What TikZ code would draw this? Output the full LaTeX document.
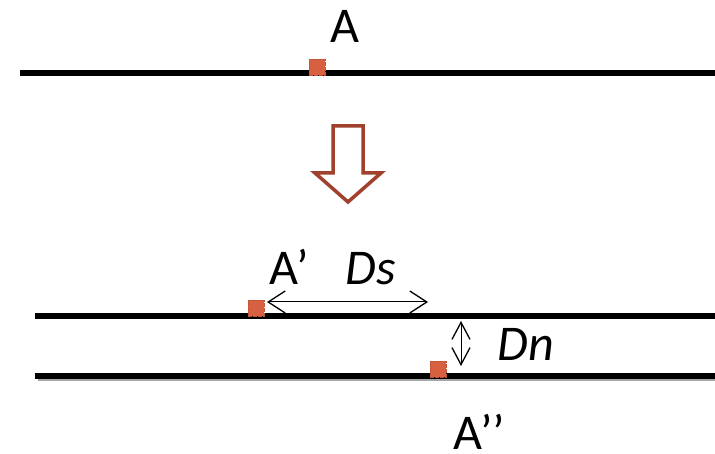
\documentclass[tikz,border=0pt]{standalone}
\usepackage{fontspec}
\setmainfont{Carlito}
\usetikzlibrary{arrows.meta}
\definecolor{ptfill}{RGB}{214,96,64}
\definecolor{ptdraw}{RGB}{196,84,56}
\definecolor{arrbrown}{RGB}{160,65,45}
\tikzset{
  road/.style={line width=5.5pt,black},
  pt/.style={rectangle,minimum size=16pt,inner sep=0pt,fill=ptfill,draw=ptdraw,dash pattern=on 4pt off 1pt,line width=0.6pt},
  lbl/.style={font=\fontsize{50}{60}\selectfont,inner sep=0pt,anchor=base},
  dsbarb/.tip={Straight Barb[length=17pt,width=22pt,line width=1.3pt]},
  dnbarb/.tip={Straight Barb[length=17pt,width=18pt,line width=1.3pt]},
  dim/.style={line width=1pt},
}
\begin{document}
\begin{tikzpicture}[x=1pt,y=-1pt]
\useasboundingbox (0,0) rectangle (715,454);
% top road
\coordinate (t1) at (20,73);
\coordinate (t2) at (715,73);
\draw[road] (t1) -- (t2);
\node[pt] (A) at (317,67) {};
\node[lbl] (Alab) at (345,43) {A};
% transition arrow
\draw[arrbrown,line width=3.5pt,line join=miter,fill=white]
  (333,126) -- (363,126) -- (363,173) -- (381,173) -- (348,202) -- (315,173) -- (333,173) -- cycle;
% middle road
\coordinate (m1) at (35,316);
\coordinate (m2) at (715,316);
\draw[road] (m1) -- (m2);
% bottom road with shadow
\coordinate (b1) at (35,376);
\coordinate (b2) at (715,376);
\coordinate (s1) at (38,379);
\coordinate (s2) at (715,379);
\draw[line width=4pt,gray!70] (s1) -- (s2);
\draw[road] (b1) -- (b2);
\node[pt] (A1) at (256,308) {};
\node[pt] (A2) at (438,369) {};
\node[lbl] (A1lab) at (289,285) {A’};
\node[lbl] (Ds) at (371,285) {\itshape Ds};
\node[lbl] (Dn) at (526,360) {\itshape Dn};
\node[lbl] (A2lab) at (479,449) {A’’};
% dimension arrows
\coordinate (ds1) at (267,302);
\coordinate (ds2) at (428,302);
\draw[dim,dsbarb-dsbarb] (ds1) -- (ds2);
\coordinate (dn1) at (461,321);
\coordinate (dn2) at (461,366);
\draw[dim,dnbarb-dnbarb] (dn1) -- (dn2);
\end{tikzpicture}
\end{document}
